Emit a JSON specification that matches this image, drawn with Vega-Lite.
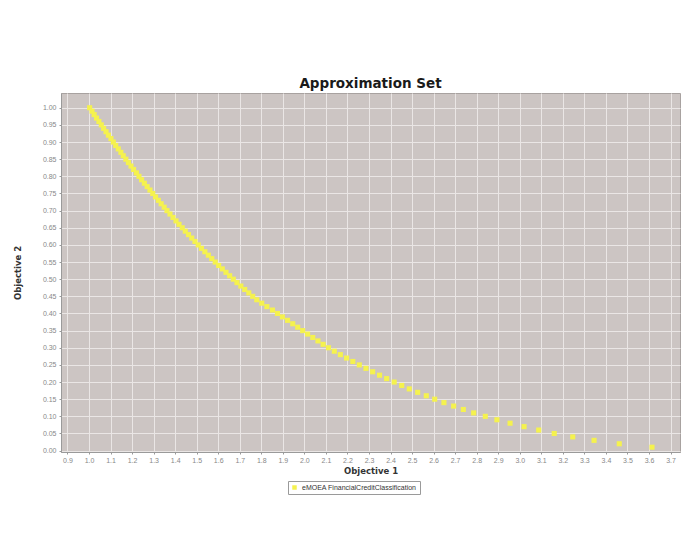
{
  "$schema": "https://vega.github.io/schema/vega-lite/v6.json",
  "width": 619,
  "height": 359,
  "autosize": {"type": "none"},
  "padding": {"left": 61, "top": 93, "right": 8, "bottom": 86},
  "background": "white",
  "title": {
    "text": "Approximation Set",
    "font": "DejaVu Sans",
    "fontSize": 13.5,
    "fontWeight": "bold",
    "color": "#1a1a1a",
    "anchor": "middle",
    "offset": 3
  },
  "data": {
    "values": [
      {"obj1": 3.614, "obj2": 0.01}, {"obj1": 3.462, "obj2": 0.02}, {"obj1": 3.345, "obj2": 0.03},
      {"obj1": 3.246, "obj2": 0.04}, {"obj1": 3.160, "obj2": 0.05}, {"obj1": 3.088, "obj2": 0.06},
      {"obj1": 3.020, "obj2": 0.07}, {"obj1": 2.955, "obj2": 0.08}, {"obj1": 2.894, "obj2": 0.09},
      {"obj1": 2.840, "obj2": 0.10}, {"obj1": 2.786, "obj2": 0.11}, {"obj1": 2.738, "obj2": 0.12},
      {"obj1": 2.693, "obj2": 0.13}, {"obj1": 2.648, "obj2": 0.14}, {"obj1": 2.605, "obj2": 0.15},
      {"obj1": 2.566, "obj2": 0.16}, {"obj1": 2.526, "obj2": 0.17}, {"obj1": 2.487, "obj2": 0.18},
      {"obj1": 2.452, "obj2": 0.19}, {"obj1": 2.417, "obj2": 0.20}, {"obj1": 2.382, "obj2": 0.21},
      {"obj1": 2.349, "obj2": 0.22}, {"obj1": 2.317, "obj2": 0.23}, {"obj1": 2.286, "obj2": 0.24},
      {"obj1": 2.255, "obj2": 0.25}, {"obj1": 2.225, "obj2": 0.26}, {"obj1": 2.196, "obj2": 0.27},
      {"obj1": 2.167, "obj2": 0.28}, {"obj1": 2.139, "obj2": 0.29}, {"obj1": 2.112, "obj2": 0.30},
      {"obj1": 2.087, "obj2": 0.31}, {"obj1": 2.063, "obj2": 0.32}, {"obj1": 2.039, "obj2": 0.33},
      {"obj1": 2.015, "obj2": 0.34}, {"obj1": 1.992, "obj2": 0.35}, {"obj1": 1.969, "obj2": 0.36},
      {"obj1": 1.946, "obj2": 0.37}, {"obj1": 1.922, "obj2": 0.38}, {"obj1": 1.898, "obj2": 0.39},
      {"obj1": 1.875, "obj2": 0.40}, {"obj1": 1.852, "obj2": 0.41}, {"obj1": 1.826, "obj2": 0.42},
      {"obj1": 1.802, "obj2": 0.43}, {"obj1": 1.779, "obj2": 0.44}, {"obj1": 1.760, "obj2": 0.45},
      {"obj1": 1.742, "obj2": 0.46}, {"obj1": 1.723, "obj2": 0.47}, {"obj1": 1.705, "obj2": 0.48},
      {"obj1": 1.687, "obj2": 0.49}, {"obj1": 1.670, "obj2": 0.50}, {"obj1": 1.653, "obj2": 0.51},
      {"obj1": 1.636, "obj2": 0.52}, {"obj1": 1.619, "obj2": 0.53}, {"obj1": 1.602, "obj2": 0.54},
      {"obj1": 1.586, "obj2": 0.55}, {"obj1": 1.570, "obj2": 0.56}, {"obj1": 1.554, "obj2": 0.57},
      {"obj1": 1.538, "obj2": 0.58}, {"obj1": 1.522, "obj2": 0.59}, {"obj1": 1.507, "obj2": 0.60},
      {"obj1": 1.492, "obj2": 0.61}, {"obj1": 1.477, "obj2": 0.62}, {"obj1": 1.462, "obj2": 0.63},
      {"obj1": 1.447, "obj2": 0.64}, {"obj1": 1.433, "obj2": 0.65}, {"obj1": 1.418, "obj2": 0.66},
      {"obj1": 1.404, "obj2": 0.67}, {"obj1": 1.390, "obj2": 0.68}, {"obj1": 1.376, "obj2": 0.69},
      {"obj1": 1.362, "obj2": 0.70}, {"obj1": 1.349, "obj2": 0.71}, {"obj1": 1.335, "obj2": 0.72},
      {"obj1": 1.322, "obj2": 0.73}, {"obj1": 1.309, "obj2": 0.74}, {"obj1": 1.296, "obj2": 0.75},
      {"obj1": 1.283, "obj2": 0.76}, {"obj1": 1.270, "obj2": 0.77}, {"obj1": 1.257, "obj2": 0.78},
      {"obj1": 1.244, "obj2": 0.79}, {"obj1": 1.232, "obj2": 0.80}, {"obj1": 1.220, "obj2": 0.81},
      {"obj1": 1.207, "obj2": 0.82}, {"obj1": 1.195, "obj2": 0.83}, {"obj1": 1.183, "obj2": 0.84},
      {"obj1": 1.171, "obj2": 0.85}, {"obj1": 1.159, "obj2": 0.86}, {"obj1": 1.148, "obj2": 0.87},
      {"obj1": 1.136, "obj2": 0.88}, {"obj1": 1.124, "obj2": 0.89}, {"obj1": 1.113, "obj2": 0.90},
      {"obj1": 1.102, "obj2": 0.91}, {"obj1": 1.090, "obj2": 0.92}, {"obj1": 1.079, "obj2": 0.93},
      {"obj1": 1.068, "obj2": 0.94}, {"obj1": 1.057, "obj2": 0.95}, {"obj1": 1.046, "obj2": 0.96},
      {"obj1": 1.035, "obj2": 0.97}, {"obj1": 1.024, "obj2": 0.98}, {"obj1": 1.014, "obj2": 0.99},
      {"obj1": 1.003, "obj2": 1.00}
    ]
  },
  "mark": {"type": "point", "shape": "square", "filled": true, "size": 26, "opacity": 1},
  "encoding": {
    "x": {
      "field": "obj1",
      "type": "quantitative",
      "scale": {"domain": [0.870, 3.744], "nice": false, "zero": false},
      "axis": {
        "title": "Objective 1",
        "values": [0.9, 1.0, 1.1, 1.2, 1.3, 1.4, 1.5, 1.6, 1.7, 1.8, 1.9, 2.0, 2.1, 2.2, 2.3, 2.4, 2.5, 2.6, 2.7, 2.8, 2.9, 3.0, 3.1, 3.2, 3.3, 3.4, 3.5, 3.6, 3.7],
        "format": ".1f",
        "labelPadding": 2,
        "titlePadding": 3
      }
    },
    "y": {
      "field": "obj2",
      "type": "quantitative",
      "scale": {"domain": [-0.004, 1.043], "nice": false, "zero": false},
      "axis": {
        "title": "Objective 2",
        "values": [0, 0.05, 0.1, 0.15, 0.2, 0.25, 0.3, 0.35, 0.4, 0.45, 0.5, 0.55, 0.6, 0.65, 0.7, 0.75, 0.8, 0.85, 0.9, 0.95, 1.0],
        "format": ".2f",
        "labelPadding": 3,
        "titlePadding": 20
      }
    },
    "color": {
      "datum": "eMOEA FinancialCreditClassification",
      "scale": {"range": ["#f5f24e"]},
      "legend": {
        "title": null,
        "orient": "none",
        "legendX": 227,
        "legendY": 388,
        "strokeColor": "#9a9a9a",
        "fillColor": "#ffffff",
        "padding": 3,
        "symbolType": "square",
        "symbolSize": 20,
        "symbolStrokeWidth": 0,
        "labelFont": "Liberation Sans",
        "labelFontSize": 7,
        "labelColor": "#333333",
        "labelOffset": 4
      }
    }
  },
  "config": {
    "view": {"fill": "#ccc5c3", "stroke": "#a8a2a0"},
    "axis": {
      "grid": true,
      "gridColor": "#eae6e5",
      "gridOpacity": 1,
      "gridWidth": 1,
      "domainColor": "#9a9a9a",
      "tickColor": "#9a9a9a",
      "tickSize": 2,
      "labelFont": "Liberation Sans",
      "labelFontSize": 7,
      "labelColor": "#888888",
      "titleFont": "DejaVu Sans",
      "titleFontSize": 8.5,
      "titleFontWeight": "bold",
      "titleColor": "#333333"
    }
  }
}
